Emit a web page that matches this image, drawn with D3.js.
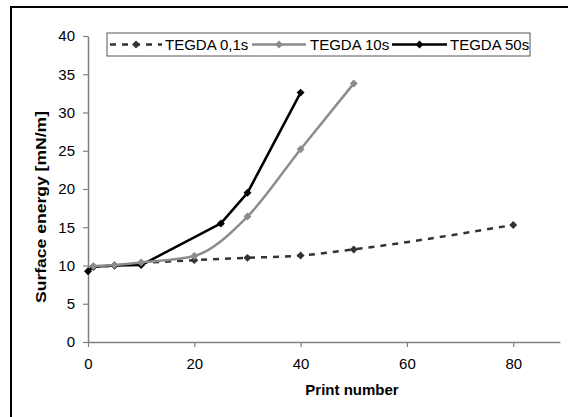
<!DOCTYPE html>
<html><head><meta charset="utf-8">
<script src="https://cdn.jsdelivr.net/npm/d3@7"></script>
<style>
html,body{margin:0;padding:0;background:#fff;}
svg{display:block;font-family:"Liberation Sans",Arial,sans-serif;}
</style></head>
<body><svg id="c" width="568" height="417"></svg>
<script>
const seriesNames = ["TEGDA 0,1s", "TEGDA 10s", "TEGDA 50s"];
const x01 = [1, 5, 10, 20, 30, 40, 50, 80];
const y01 = [9.8, 10.0, 10.3, 10.7, 11.0, 11.3, 12.1, 15.3];
const x10 = [1, 5, 10, 20, 30, 40, 50];
const y10 = [9.9, 10.05, 10.4, 11.25, 16.4, 25.2, 33.8];
const x50 = [0, 1, 5, 10, 25, 30, 40];
const y50 = [9.25, 9.85, 10.0, 10.05, 15.5, 19.5, 32.6];
const xTicks = [0, 20, 40, 60, 80];
const yTicks = [0, 5, 10, 15, 20, 25, 30, 35, 40];

const svg = d3.select("#c");
svg.append("rect").attr("x", 11).attr("y", 7).attr("width", 700).attr("height", 600)
  .attr("fill", "none").attr("stroke", "#000").attr("stroke-width", 2);

const x = d3.scaleLinear().domain([0, 88.8]).range([88, 560]);
const y = d3.scaleLinear().domain([0, 40]).range([342, 36]);

const axisColor = "#808080";
const gx = svg.append("g").attr("transform", "translate(0,342)")
  .call(d3.axisBottom(x).tickValues(xTicks).tickSize(5).tickSizeOuter(0).tickPadding(11));
const gy = svg.append("g").attr("transform", "translate(88,0)")
  .call(d3.axisLeft(y).tickValues(yTicks).tickSize(5).tickSizeOuter(0).tickPadding(8));
[gx, gy].forEach(g => {
  g.select(".domain").attr("stroke", axisColor).attr("stroke-width", 1.5);
  g.selectAll(".tick line").attr("stroke", axisColor).attr("stroke-width", 1.2);
  g.selectAll("text").attr("fill", "#000").style("font-size", "15px")
    .style("font-family", "'Liberation Sans',Arial,sans-serif");
});

svg.append("text").attr("x", 352).attr("y", 395).attr("text-anchor", "middle")
  .style("font-size", "15px").style("font-weight", "bold").text("Print number");
svg.append("text").attr("transform", "translate(46,207) rotate(-90)").attr("text-anchor", "middle")
  .attr("textLength", 192).attr("lengthAdjust", "spacingAndGlyphs")
  .style("font-size", "15px").style("font-weight", "bold").text("Surface energy [mN/m]");

const series = [
  {name: seriesNames[0], xs: x01, ys: y01, color: "#333333", dash: "6,6", order: 0, curve: d3.curveMonotoneX},
  {name: seriesNames[1], xs: x10, ys: y10, color: "#8c8c8c", dash: null, order: 2, curve: d3.curveMonotoneX},
  {name: seriesNames[2], xs: x50, ys: y50, color: "#000000", dash: null, order: 1, curve: d3.curveLinear}
];
const diamond = d3.symbol().type(d3.symbolDiamond2).size(40);

series.slice().sort((a, b) => a.order - b.order).forEach(s => {
  const pts = s.xs.map((v, i) => [v, s.ys[i]]);
  const line = d3.line().x(d => x(d[0])).y(d => y(d[1])).curve(s.curve);
  svg.append("path").attr("d", line(pts)).attr("fill", "none")
    .attr("stroke", s.color).attr("stroke-width", 2.5).attr("stroke-linejoin", "round")
    .attr("stroke-dasharray", s.dash);
  svg.selectAll(null).data(pts).enter().append("path")
    .attr("d", diamond).attr("transform", d => `translate(${x(d[0])},${y(d[1])})`)
    .attr("fill", s.color);
});

const lg = svg.append("g");
lg.append("rect").attr("x", 107).attr("y", 33).attr("width", 423).attr("height", 23)
  .attr("fill", "#fff").attr("stroke", "#555").attr("stroke-width", 1);
const legPos = [{x0: 110, x1: 162, tx: 165}, {x0: 252, x1: 306, tx: 310}, {x0: 392, x1: 447, tx: 450}];
series.forEach((s, i) => {
  const p = legPos[i];
  lg.append("line").attr("x1", p.x0).attr("x2", p.x1).attr("y1", 44.5).attr("y2", 44.5)
    .attr("stroke", s.color).attr("stroke-width", 2.5).attr("stroke-dasharray", s.dash);
  lg.append("path").attr("d", diamond).attr("transform", `translate(${(p.x0 + p.x1) / 2},44.5)`)
    .attr("fill", s.color);
  lg.append("text").attr("x", p.tx).attr("y", 50).style("font-size", "15px").text(s.name);
});
</script></body></html>
